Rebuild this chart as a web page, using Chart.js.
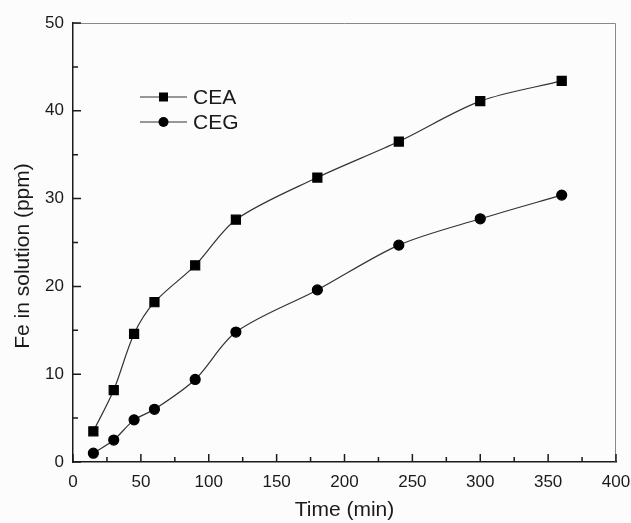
<!DOCTYPE html>
<html>
<head>
<meta charset="utf-8">
<script src="https://cdn.jsdelivr.net/npm/chart.js@4.4.1/dist/chart.umd.min.js"></script>
<style>
  html, body { margin: 0; padding: 0; background: #fcfcfc; }
  #wrap { width: 631px; height: 523px; }
</style>
</head>
<body>
<div id="wrap"><canvas id="chart" width="631" height="523"></canvas></div>
<script>
// data
const times = [15, 30, 45, 60, 90, 120, 180, 240, 300, 360];
const ceaValues = [3.5, 8.2, 14.6, 18.2, 22.4, 27.6, 32.4, 36.5, 41.1, 43.4];
const cegValues = [1.0, 2.5, 4.8, 6.0, 9.4, 14.8, 19.6, 24.7, 27.7, 30.4];
const seriesNames = ['CEA', 'CEG'];

const xTicks = [0, 50, 100, 150, 200, 250, 300, 350, 400];
const yTicks = [0, 10, 20, 30, 40, 50];
const yTitle = 'Fe in solution (ppm)';

const fontFamily = '"Liberation Sans", Arial, sans-serif';
const inkColor = '#1a1a1a';

function toPoints(values) {
    return times.map((t, i) => ({ x: t, y: values[i] }));
}

// ticks pointing into the plot, plus thin top/right frame
const frameTicks = {
    id: 'frameTicks',
    afterDraw(chart) {
        const { ctx, chartArea: a, scales } = chart;
        ctx.save();
        ctx.strokeStyle = '#888';
        ctx.lineWidth = 1;
        ctx.beginPath();
        ctx.moveTo(a.left, a.top + 0.5);
        ctx.lineTo(a.right - 0.5, a.top + 0.5);
        ctx.lineTo(a.right - 0.5, a.bottom);
        ctx.stroke();

        ctx.strokeStyle = inkColor;
        ctx.lineWidth = 1.5;
        ctx.beginPath();
        for (let v = 0; v <= 400; v += 25) {
            const px = scales.x.getPixelForValue(v);
            const len = v % 50 === 0 ? 8 : 5;
            ctx.moveTo(px, a.bottom);
            ctx.lineTo(px, a.bottom - len);
        }
        for (let v = 0; v <= 50; v += 5) {
            const py = scales.y.getPixelForValue(v);
            const len = v % 10 === 0 ? 8 : 5;
            ctx.moveTo(a.left, py);
            ctx.lineTo(a.left + len, py);
        }
        ctx.stroke();

        // y title, sitting a bit below the axis middle as in the original
        ctx.translate(23, 256);
        ctx.rotate(-Math.PI / 2);
        ctx.fillStyle = inkColor;
        ctx.font = '21px ' + fontFamily;
        ctx.textAlign = 'center';
        ctx.textBaseline = 'middle';
        ctx.fillText(yTitle, 0, 0);
        ctx.restore();
    }
};

// legend drawn inside the plot like the original
const insideLegend = {
    id: 'insideLegend',
    afterDraw(chart) {
        const { ctx } = chart;
        const left = 140, top = 97, rowGap = 25;
        ctx.save();
        chart.data.datasets.forEach((ds, i) => {
            const y = top + i * rowGap;
            ctx.strokeStyle = '#333';
            ctx.lineWidth = 1.2;
            ctx.beginPath();
            ctx.moveTo(left, y);
            ctx.lineTo(left + 47, y);
            ctx.stroke();
            ctx.fillStyle = '#000';
            if (ds.pointStyle === 'rect') {
                ctx.fillRect(left + 23.5 - 4.5, y - 4.5, 9, 9);
            } else {
                ctx.beginPath();
                ctx.arc(left + 23.5, y, 5, 0, Math.PI * 2);
                ctx.fill();
            }
            ctx.fillStyle = inkColor;
            ctx.font = '21px ' + fontFamily;
            ctx.textBaseline = 'middle';
            ctx.fillText(ds.label, left + 53, y + 1);
        });
        ctx.restore();
    }
};

const bgFill = {
    id: 'bgFill',
    beforeDraw(chart) {
        const { ctx, width, height } = chart;
        ctx.save();
        ctx.fillStyle = '#fcfcfc';
        ctx.fillRect(0, 0, width, height);
        ctx.restore();
    }
};

const chart = new Chart(document.getElementById('chart'), {
    type: 'line',
    data: {
        datasets: [
            {
                label: seriesNames[0],
                data: toPoints(ceaValues),
                borderColor: '#333',
                borderWidth: 1.2,
                backgroundColor: '#000',
                pointBackgroundColor: '#000',
                pointBorderColor: '#000',
                pointStyle: 'rect',
                pointRadius: 6.4,
                tension: 0.3,
                fill: false
            },
            {
                label: seriesNames[1],
                data: toPoints(cegValues),
                borderColor: '#333',
                borderWidth: 1.2,
                backgroundColor: '#000',
                pointBackgroundColor: '#000',
                pointBorderColor: '#000',
                pointStyle: 'circle',
                pointRadius: 5,
                tension: 0.3,
                fill: false
            }
        ]
    },
    options: {
        responsive: false,
        animation: false,
        layout: { padding: { top: 23, right: 0, left: 0, bottom: 0 } },
        plugins: {
            legend: { display: false },
            tooltip: { enabled: false }
        },
        scales: {
            x: {
                type: 'linear',
                min: 0,
                max: 400,
                afterBuildTicks: scale => { scale.ticks = xTicks.map(v => ({ value: v })); },
                afterFit: scale => { scale.height = 61; scale.paddingRight = 15; },
                grid: { display: false, drawTicks: false },
                border: { display: true, color: inkColor, width: 1.5 },
                ticks: {
                    padding: 10,
                    color: inkColor,
                    font: { family: fontFamily, size: 17 },
                    maxRotation: 0
                },
                title: {
                    display: true,
                    text: 'Time (min)',
                    color: inkColor,
                    font: { family: fontFamily, size: 21 },
                    padding: { top: 2, bottom: 0 }
                }
            },
            y: {
                type: 'linear',
                min: 0,
                max: 50,
                afterBuildTicks: scale => { scale.ticks = yTicks.map(v => ({ value: v })); },
                afterFit: scale => { scale.width = 73; },
                grid: { display: false, drawTicks: false },
                border: { display: true, color: inkColor, width: 1.5 },
                ticks: {
                    padding: 9,
                    color: inkColor,
                    font: { family: fontFamily, size: 17 }
                },
                title: { display: false }
            }
        }
    },
    plugins: [bgFill, frameTicks, insideLegend]
});
</script>
</body>
</html>
